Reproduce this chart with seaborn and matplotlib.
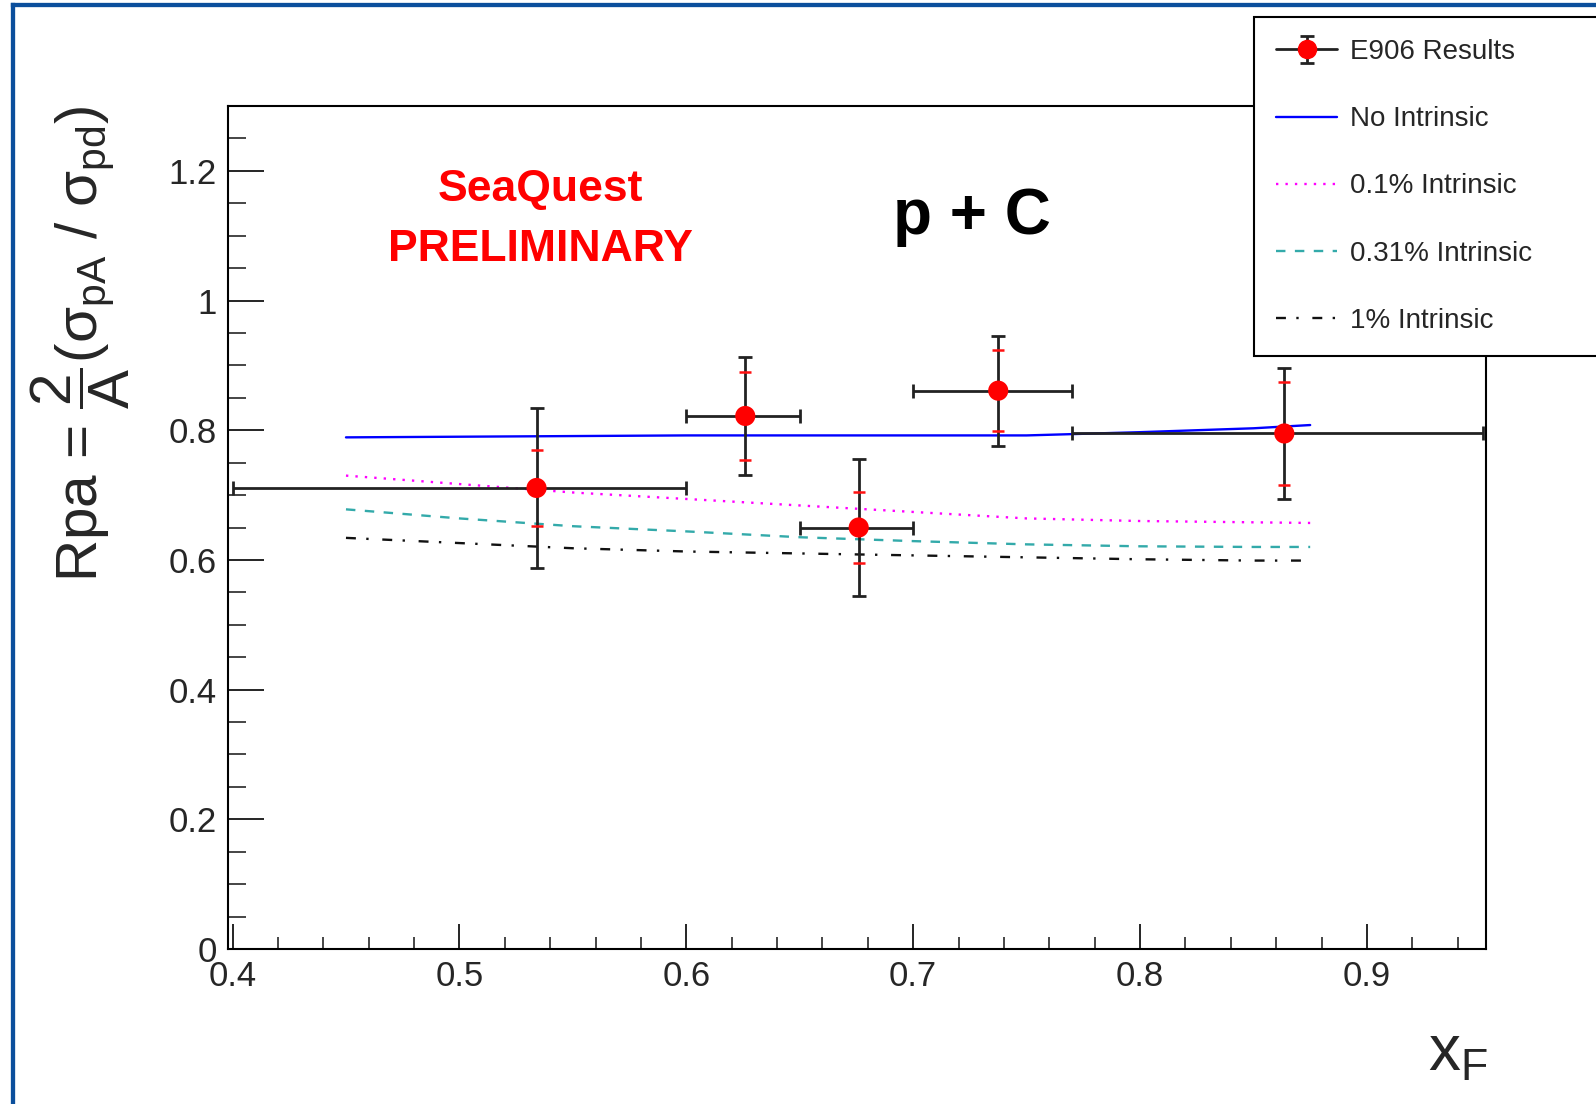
import numpy as np
import pandas as pd
import matplotlib
matplotlib.use("Agg")
import matplotlib.pyplot as plt
import seaborn as sns
from matplotlib.lines import Line2D
from matplotlib.ticker import MultipleLocator

# ---------------- data ----------------
xf_points = [0.534, 0.626, 0.676, 0.7375, 0.8636]
rpa_points = [0.711, 0.822, 0.650, 0.861, 0.795]
xerr_low = [0.134, 0.026, 0.026, 0.0375, 0.0936]
xerr_high = [0.066, 0.024, 0.024, 0.0325, 0.0874]
stat_err = [0.123, 0.091, 0.105, 0.085, 0.101]
sys_err = [0.058, 0.068, 0.055, 0.062, 0.080]

xf_curve = [0.45, 0.50, 0.55, 0.60, 0.65, 0.70, 0.75, 0.80, 0.85, 0.875]
no_intrinsic = [0.789, 0.790, 0.791, 0.792, 0.792, 0.792, 0.792, 0.797, 0.803, 0.808]
intr_01 = [0.730, 0.717, 0.704, 0.694, 0.684, 0.674, 0.664, 0.660, 0.658, 0.657]
intr_031 = [0.678, 0.664, 0.652, 0.644, 0.635, 0.629, 0.624, 0.621, 0.620, 0.620]
xf_curve_1 = [0.45, 0.50, 0.55, 0.60, 0.65, 0.70, 0.75, 0.80, 0.85, 0.872]
intr_1 = [0.634, 0.626, 0.618, 0.613, 0.610, 0.607, 0.604, 0.601, 0.599, 0.599]

curve_labels = ["No Intrinsic", "0.1% Intrinsic", "0.31% Intrinsic", "1% Intrinsic"]
data_label = "E906 Results"

# ---------------- style ----------------
sns.set_theme(style="white")
plt.rcParams["font.family"] = ["Liberation Sans", "DejaVu Sans"]
plt.rcParams["mathtext.fontset"] = "custom"
plt.rcParams["mathtext.rm"] = "Liberation Sans"
plt.rcParams["mathtext.it"] = "Liberation Sans"
plt.rcParams["mathtext.bf"] = "Liberation Sans:bold"

W, H = 1596, 1104
fig = plt.figure(figsize=(W / 100, H / 100), dpi=100)
fig.patch.set_facecolor("white")
ax_l, ax_r, ax_t, ax_b = 228, 1486, 106, 949
ax = fig.add_axes([ax_l / W, 1 - ax_b / H, (ax_r - ax_l) / W, (ax_b - ax_t) / H])
ax.set_facecolor("white")

# curves
df1 = pd.DataFrame({"xf": xf_curve, "r": no_intrinsic})
df2 = pd.DataFrame({"xf": xf_curve, "r": intr_01})
df3 = pd.DataFrame({"xf": xf_curve, "r": intr_031})
df4 = pd.DataFrame({"xf": xf_curve_1, "r": intr_1})
lw = 1.7
sns.lineplot(data=df1, x="xf", y="r", ax=ax, color="#0000ff", lw=lw, label=curve_labels[0], zorder=3)
sns.lineplot(data=df2, x="xf", y="r", ax=ax, color="#ff00ff", lw=lw, label=curve_labels[1],
             linestyle=(0, (1, 3.0)), zorder=3)
sns.lineplot(data=df3, x="xf", y="r", ax=ax, color="#33aaaa", lw=lw, label=curve_labels[2],
             linestyle=(0, (4, 4.0)), zorder=3)
sns.lineplot(data=df4, x="xf", y="r", ax=ax, color="#111111", lw=lw, label=curve_labels[3],
             linestyle=(0, (4.2, 4.4, 1, 5.8)), zorder=3)

# data points
ebk = "#222222"
ax.errorbar(xf_points, rpa_points, xerr=[xerr_low, xerr_high], yerr=stat_err, fmt="none",
            ecolor=ebk, elinewidth=2.0, capsize=5, capthick=2.0, zorder=4)
ax.errorbar(xf_points, rpa_points, yerr=sys_err, fmt="none", ecolor="#ff1010",
            elinewidth=0, capsize=4.5, capthick=1.8, zorder=5)
sns.scatterplot(x=xf_points, y=rpa_points, ax=ax, color="red", s=210, edgecolor="none",
                zorder=6, legend=False)

# axes
ax.set_xlim(0.398, 0.9525)
ax.set_ylim(0, 1.3)
ax.set_xlabel("")
ax.set_ylabel("")
ax.xaxis.set_major_locator(MultipleLocator(0.1))
ax.xaxis.set_minor_locator(MultipleLocator(0.02))
ax.yaxis.set_major_locator(MultipleLocator(0.2))
ax.yaxis.set_minor_locator(MultipleLocator(0.05))
ax.xaxis.set_major_formatter(plt.FuncFormatter(lambda v, p: f"{v:g}"))
ax.yaxis.set_major_formatter(plt.FuncFormatter(lambda v, p: f"{v:g}"))
ax.tick_params(axis="y", which="major", direction="in", length=26, width=1.2, labelsize=25,
               pad=8, left=True, right=False, color="black")
ax.tick_params(axis="y", which="minor", direction="in", length=13, width=1.2, left=True, right=False)
ax.tick_params(axis="x", which="major", direction="in", length=18, width=1.2, labelsize=25,
               pad=8, bottom=True, top=False, color="black")
ax.tick_params(axis="x", which="minor", direction="in", length=9, width=1.2, bottom=True, top=False)
for s in ax.spines.values():
    s.set_color("black")
    s.set_linewidth(1.5)

# legend
h, l = ax.get_legend_handles_labels()
proxy = ax.errorbar([np.nan], [np.nan], yerr=[np.nan], fmt="o", color="red", ms=13,
                    ecolor=ebk, elinewidth=2.0, capsize=5, capthick=2.0)
hline = Line2D([], [], color=ebk, lw=2.0)
handles = [(hline, proxy)] + h
labels = [data_label] + l
leg = ax.legend(handles, labels, loc="upper left",
                bbox_to_anchor=(0.8156, 0.70, 0.40, 0.4056), mode="expand",
                fontsize=20, frameon=True, fancybox=False, framealpha=1,
                edgecolor="black", handlelength=2.2, handletextpad=0.45,
                labelspacing=1.48, borderpad=0.8, borderaxespad=0)
leg.get_frame().set_linewidth(1.5)
leg.set_zorder(10)

# texts
fig.text(540 / W, 1 - 190 / H, "SeaQuest", color="#ff0000", fontsize=32, fontweight="bold",
         ha="center", va="center")
fig.text(540 / W, 1 - 249 / H, "PRELIMINARY", color="#ff0000", fontsize=32, fontweight="bold",
         ha="center", va="center")
fig.text(972 / W, 1 - 217 / H, "p + C", color="black", fontsize=46, fontweight="bold",
         ha="center", va="center")
fig.text(80 / W, 1 - 344 / H,
         r"Rpa = $\dfrac{2}{A}$($\sigma_{\mathrm{pA}}$ / $\sigma_{\mathrm{pd}}$)",
         rotation=90, fontsize=42, ha="center", va="center")
fig.text(1458 / W, 1 - 1054 / H, r"x$_{\mathrm{F}}$", fontsize=46, ha="center", va="center")

# blue frame (left and top)
bc = "#0b4f9c"
fig.add_artist(Line2D([12.8 / W, 12.8 / W], [0, 1 - 5.3 / H], transform=fig.transFigure,
                      color=bc, lw=3.1, solid_capstyle="projecting"))
fig.add_artist(Line2D([12.8 / W, 1], [1 - 5.3 / H, 1 - 5.3 / H], transform=fig.transFigure,
                      color=bc, lw=3.1, solid_capstyle="projecting"))

fig.savefig("out.png", dpi=100, facecolor="white")
